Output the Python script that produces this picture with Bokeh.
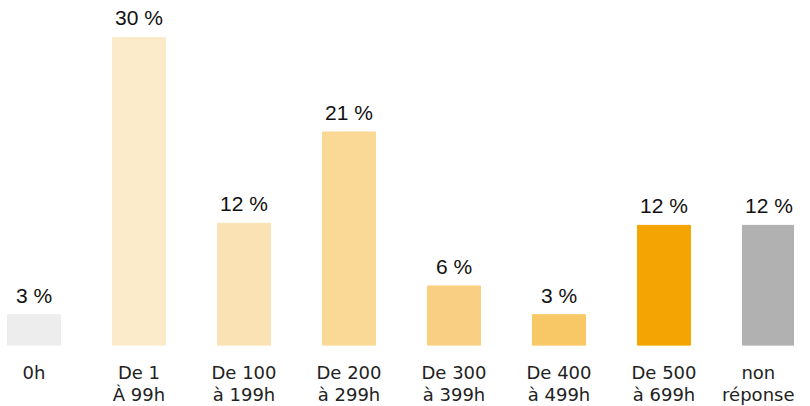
from bokeh.plotting import figure
from bokeh.models import ColumnDataSource, FixedTicker, LinearAxis, Range1d
from bokeh.core.properties import value
from bokeh.embed import file_html
from bokeh.resources import INLINE

categories = ["0h", "De 1\nÀ 99h", "De 100\nà 199h", "De 200\nà 299h",
              "De 300\nà 399h", "De 400\nà 499h", "De 500\nà 699h", "non\nréponse"]
values = [3.0, 30.0, 11.9, 20.8, 5.8, 3.0, 11.7, 11.7]
labels = ["3 %", "30 %", "12 %", "21 %", "6 %", "3 %", "12 %", "12 %"]
colors = ["#EDEDED", "#FCEBCB", "#FBE2B5", "#FAD895", "#F9D083", "#F7C865", "#F5A503", "#B1B1B1"]

xs = list(range(len(categories)))
src = ColumnDataSource(dict(x=xs, top=values, lab=labels, color=colors))

p = figure(frame_width=794, frame_height=345, output_backend="svg", toolbar_location=None,
           x_range=Range1d(-0.319, 7.243), y_range=Range1d(0, 33.6),
           x_axis_location=None, y_axis_location=None,
           min_border=0, min_border_left=0, min_border_right=0, min_border_top=0,
           min_border_bottom=0)
p.outline_line_color = None
p.xgrid.visible = False
p.ygrid.visible = False
p.background_fill_color = "white"

p.vbar(x="x", top="top", bottom=0, width=0.505, color="color", source=src)
p.text(x="x", y="top", text="lab", source=src, text_align="center", text_baseline="bottom",
       y_offset=-8, text_font=value("Liberation Sans"), text_font_size="21px", text_color="#111111")

ax = LinearAxis(ticker=FixedTicker(ticks=xs),
                major_label_overrides={i: c for i, c in zip(xs, categories)})
ax.axis_line_color = None
ax.major_tick_line_color = None
ax.minor_tick_line_color = None
ax.major_tick_out = 0
ax.major_tick_in = 0
ax.major_label_standoff = 16
ax.major_label_text_font = "DejaVu Sans"
ax.major_label_text_font_size = "18px"
ax.major_label_text_color = "#222222"
ax.major_label_text_line_height = 1.05
p.add_layout(ax, "below")

open("out.html", "w").write(file_html(p, INLINE))
